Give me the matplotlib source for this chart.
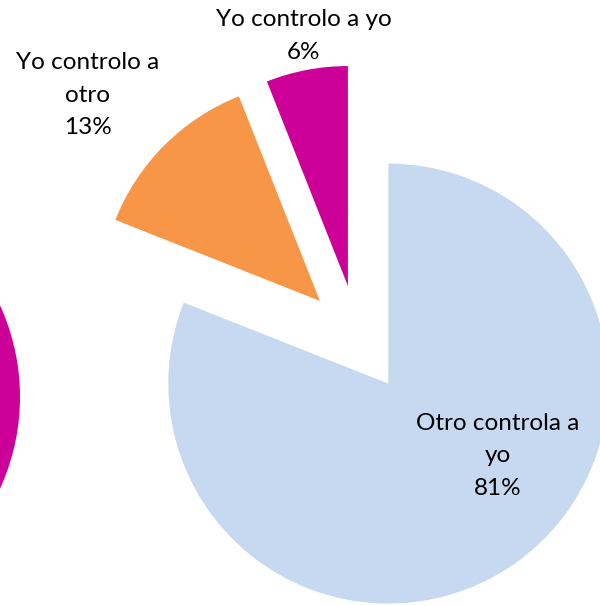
import matplotlib
matplotlib.use("Agg")
import matplotlib.pyplot as plt

# datos del grafico
categorias = ["Otro controla a\nyo", "Yo controlo a\notro", "Yo controlo a yo"]
valores = [81, 13, 6]
colores = ["#C6D9F1", "#F79646", "#CC0099"]

W, H = 600, 606

fig = plt.figure(figsize=(W / 100, H / 100), dpi=100)
ax = fig.add_axes([0, 0, 1, 1])

radio = 220
centro = (358, H - 339)
separacion = 0.245 * radio  # en matplotlib explode va en unidades de datos

ax.pie(valores, colors=colores, startangle=90, counterclock=False,
       explode=[separacion] * len(valores), radius=radio, center=centro,
       wedgeprops=dict(linewidth=0))

# trozo del otro grafico que queda cortado a la izquierda
ax.pie([1], colors=["#CC0099"], radius=radio, center=(-200, H - 397),
       wedgeprops=dict(linewidth=0))

# posiciones de las etiquetas (en pixeles de la imagen)
pos_etiquetas = [(498, 456), (88, 95), (304, 36)]
for cat, val, (x, y) in zip(categorias, valores, pos_etiquetas):
    ax.text(x, H - y, f"{cat}\n{val}%", ha="center", va="center",
            fontsize=17.5, family="Lato", color="#000000", linespacing=1.65)

ax.set_xlim(0, W)
ax.set_ylim(0, H)
ax.set_aspect("equal")
ax.axis("off")

fig.savefig("out.png", dpi=100)
